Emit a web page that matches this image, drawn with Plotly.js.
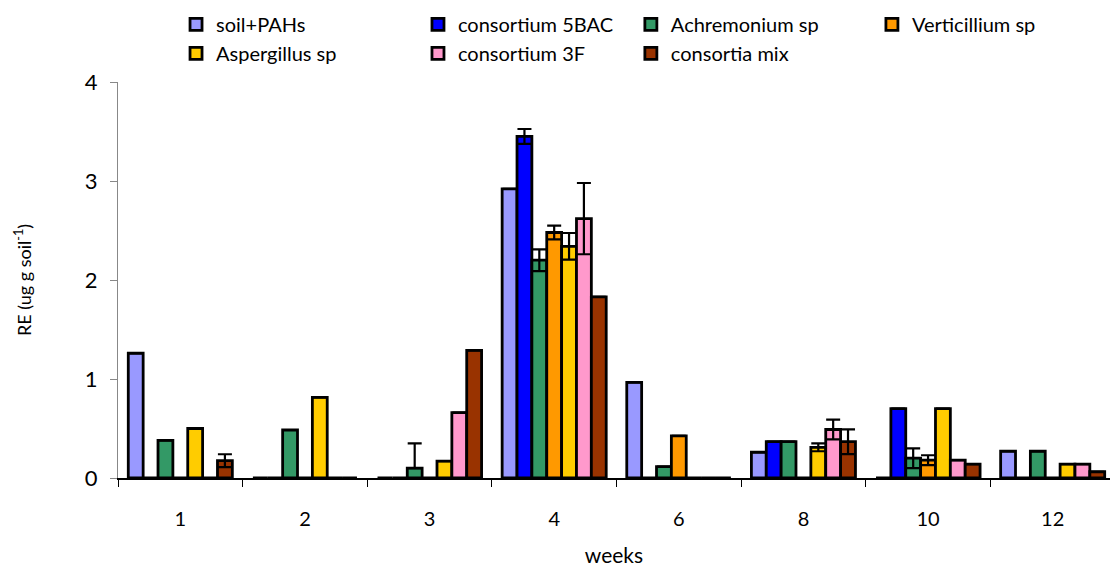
<!DOCTYPE html>
<html>
<head>
<meta charset="utf-8">
<script src="https://cdn.plot.ly/plotly-3.0.1.min.js"></script>
<style>html,body{margin:0;padding:0;background:#fff;}#chart{width:1110px;height:567px;}</style>
</head>
<body>
<div id="chart"></div>
<script>
var weeks = ["1", "2", "3", "4", "6", "8", "10", "12"];
var seriesNames = ["soil+PAHs", "consortium 5BAC", "Achremonium sp", "Verticillium sp", "Aspergillus sp", "consortium 3F", "consortia mix"];
var soilPAHs      = [1.26, 0, 0, 2.92, 0.965, 0.26, 0, 0.27];
var consortium5BAC = [0, 0, 0, 3.45, 0, 0.367, 0.70, 0];
var achremonium   = [0.38, 0.485, 0.10, 2.20, 0.115, 0.367, 0.20, 0.27];
var verticillium  = [0, 0, 0, 2.48, 0.425, 0, 0.18, 0];
var aspergillus   = [0.50, 0.815, 0.17, 2.34, 0, 0.31, 0.70, 0.14];
var consortium3F  = [0, 0, 0.66, 2.62, 0, 0.49, 0.18, 0.14];
var consortiaMix  = [0.175, 0, 1.29, 1.83, 0, 0.367, 0.14, 0.063];
var errPlus  = [
  [0,0,0,0,0,0,0,0],
  [0,0,0,0.075,0,0,0,0],
  [0,0,0.25,0.11,0,0,0.10,0],
  [0,0,0,0.07,0,0,0.05,0],
  [0,0,0,0.135,0,0.04,0,0],
  [0,0,0,0.36,0,0.10,0,0],
  [0.065,0,0,0,0,0.125,0,0]
];
var errMinus = [
  [0,0,0,0,0,0,0,0],
  [0,0,0,0.075,0,0,0,0],
  [0,0,0,0.11,0,0,0.10,0],
  [0,0,0,0.07,0,0,0.05,0],
  [0,0,0,0.135,0,0.04,0,0],
  [0,0,0,0.36,0,0.10,0,0],
  [0.065,0,0,0,0,0.125,0,0]
];
var colors = ["#9999FF", "#0000FF", "#339966", "#FF9900", "#FFCC00", "#FF99CC", "#993300"];
var allValues = [soilPAHs, consortium5BAC, achremonium, verticillium, aspergillus, consortium3F, consortiaMix];
// legend column assignment (reference shows 4 columns x 2 rows)
var legendOf = ["legend", "legend2", "legend3", "legend4", "legend", "legend2", "legend3"];

var font = "Lato, 'Open Sans', sans-serif";
var traces = allValues.map(function(v, i){
  return {
    type: "bar",
    name: seriesNames[i],
    legend: legendOf[i],
    x: weeks,
    y: v,
    marker: {color: colors[i], line: {color: "#000", width: 2.8}},
    error_y: {type: "data", symmetric: false, array: errPlus[i], arrayminus: errMinus[i],
              visible: true, color: "#000", thickness: 2.2, width: 7},
    hoverinfo: "none"
  };
});

function leg(x){
  return {
    orientation: "v", x: x, y: 1.195, xanchor: "left", yanchor: "top",
    font: {family: font, size: 20, color: "#000"},
    bgcolor: "rgba(0,0,0,0)", itemwidth: 30, tracegroupgap: 0, traceorder: "normal"
  };
}

var layout = {
  width: 1110, height: 567,
  margin: {l: 118, r: 0, t: 82, b: 89},
  paper_bgcolor: "#fff", plot_bgcolor: "#fff",
  barmode: "group", bargap: 0.165, bargroupgap: 0,
  font: {family: font, color: "#000"},
  showlegend: true,
  legend: leg(0.0585),
  legend2: leg(0.3024),
  legend3: leg(0.517),
  legend4: leg(0.76),
  xaxis: {
    type: "category",
    range: [-0.5, 7.46],
    showline: true, linecolor: "#000", linewidth: 1.5,
    ticks: "outside", tickson: "boundaries", ticklen: 7, tickcolor: "#000", tickwidth: 1,
    ticklabelstandoff: 22,
    tickfont: {family: font, size: 20, color: "#000"},
    showgrid: false, zeroline: false,
    title: {text: "weeks", font: {family: font, size: 21, color: "#000"}, standoff: 22}
  },
  yaxis: {
    range: [0, 4], dtick: 1,
    showline: true, linecolor: "#888", linewidth: 1,
    ticks: "outside", ticklen: 7, tickcolor: "#888",
    ticklabelstandoff: 8,
    tickfont: {family: font, size: 22, color: "#000"},
    showgrid: false, zeroline: false,
    title: {text: "RE (ug g soil<sup>-1</sup>)", font: {family: font, size: 18, color: "#000"}, standoff: 48}
  }
};

Plotly.newPlot("chart", traces, layout, {displayModeBar: false, staticPlot: true});
</script>
</body>
</html>
